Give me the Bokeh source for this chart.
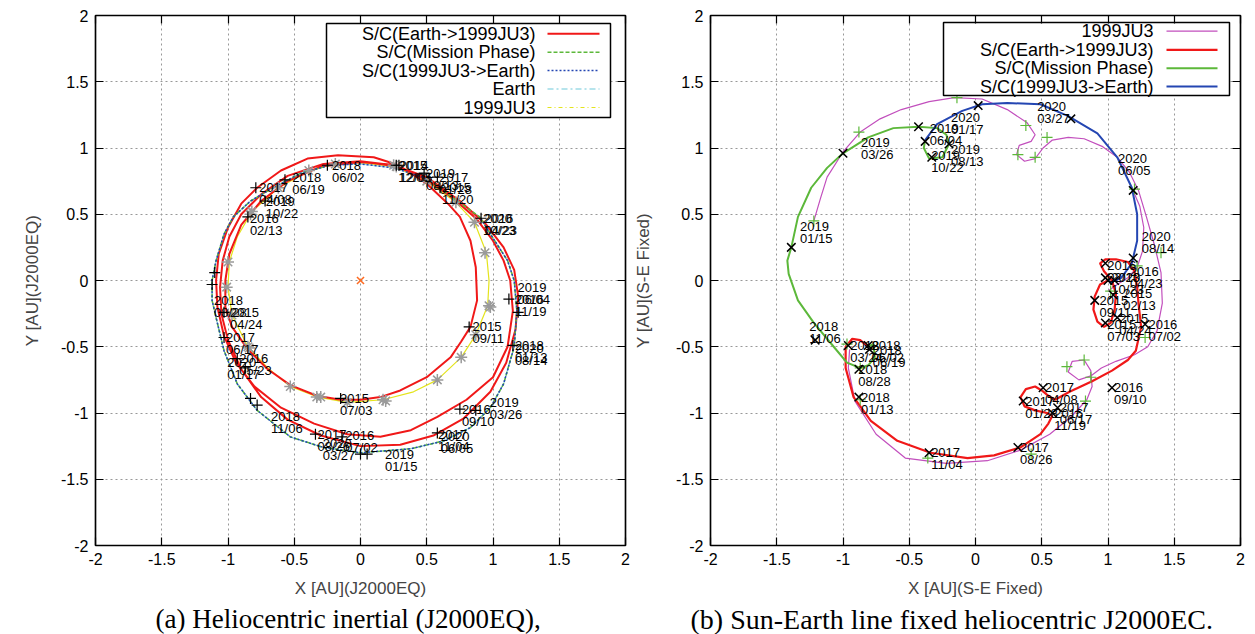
from bokeh.plotting import figure
from bokeh.models import Range1d, LinearAxis, FixedTicker, CustomJSTickFormatter, Title
from bokeh.layouts import row
from bokeh.core.properties import value
from bokeh.embed import file_html
from bokeh.resources import INLINE

TICKS = [-2, -1.5, -1, -0.5, 0, 0.5, 1, 1.5, 2]

# ---------------- (a) heliocentric inertial J2000EQ ----------------
earth_x_a = [1.16, 1.11, 1.00, 0.90, 0.73, 0.50, 0.25, 0.00, -0.23, -0.45, -0.66, -0.83, -0.96, -1.03, -1.09, -1.12,
             -1.12, -1.09, -1.03, -0.93, -0.78, -0.53, -0.28, 0.00, 0.38, 0.63, 0.83, 0.98, 1.08, 1.16, 1.18, 1.16]
earth_y_a = [0.00, 0.15, 0.32, 0.48, 0.60, 0.77, 0.85, 0.88, 0.87, 0.81, 0.70, 0.60, 0.48, 0.35, 0.15, 0.00,
             -0.15, -0.28, -0.53, -0.78, -0.98, -1.18, -1.26, -1.30, -1.27, -1.21, -1.11, -0.96, -0.78, -0.50, -0.23, 0.00]

mission_x_a = [-0.23, -0.45, -0.66, -0.83, -0.96, -1.03, -1.09, -1.12, -1.12, -1.09, -1.03, -0.93, -0.78, -0.53, -0.28,
               0.00, 0.38, 0.63, 0.83, 0.98, 1.08, 1.16, 1.18, 1.16, 1.11, 1.00, 0.90, 0.73, 0.50]
mission_y_a = [0.87, 0.81, 0.70, 0.60, 0.48, 0.35, 0.15, 0.00, -0.15, -0.28, -0.53, -0.78, -0.98, -1.18, -1.26,
               -1.30, -1.27, -1.21, -1.11, -0.96, -0.78, -0.50, -0.23, 0.00, 0.15, 0.32, 0.48, 0.60, 0.77]

return_x_a = [0.50, 0.25, 0.00, -0.23, -0.45, -0.66, -0.83, -0.96, -1.03, -1.09, -1.12, -1.12, -1.09, -1.03, -0.93,
              -0.78, -0.53, -0.28, 0.00, 0.38, 0.63, 0.83, 0.98, 1.08, 1.16, 1.18, 1.16, 1.11, 1.00, 0.90]
return_y_a = [0.77, 0.85, 0.88, 0.87, 0.81, 0.70, 0.60, 0.48, 0.35, 0.15, 0.00, -0.15, -0.28, -0.53, -0.78,
              -0.98, -1.18, -1.26, -1.30, -1.27, -1.21, -1.11, -0.96, -0.78, -0.50, -0.23, 0.00, 0.15, 0.32, 0.48]

ast_x_a = [0.97, 0.95, 0.86, 0.72, 0.50, 0.26, 0.00, -0.19, -0.38, -0.62, -0.82, -0.93, -0.99, -1.00, -0.97, -0.85,
           -0.70, -0.53, -0.32, -0.10, 0.17, 0.40, 0.58, 0.76, 0.87, 0.96, 0.97]
ast_y_a = [0.00, 0.21, 0.44, 0.59, 0.75, 0.86, 0.89, 0.88, 0.83, 0.70, 0.52, 0.33, 0.14, -0.05, -0.26, -0.50,
           -0.66, -0.80, -0.88, -0.92, -0.90, -0.84, -0.75, -0.58, -0.41, -0.19, 0.00]

outbound_x_a = [0.29, 0.00, -0.30, -0.55, -0.75, -0.90, -0.99, -1.02, -1.02, -0.97, -0.85, -0.70, -0.53, -0.33, -0.15,
                0.00, 0.15, 0.30, 0.50, 0.68, 0.76, 0.83, 0.88, 0.87, 0.83, 0.75, 0.66, 0.50, 0.29,
                0.10, -0.17, -0.40, -0.60, -0.78, -0.90, -1.00, -1.07, -1.09, -1.08, -1.03, -0.94, -0.80, -0.60, -0.35,
                -0.10, 0.15, 0.38, 0.58, 0.80, 1.00, 1.11, 1.15, 1.13, 1.08, 1.00, 0.88, 0.70, 0.50, 0.28,
                0.00, -0.28, -0.55, -0.75, -0.90, -0.99, -1.04, -1.06, -1.05, -1.00, -0.90, -0.75, -0.55, -0.30, 0.00,
                0.30, 0.55, 0.78, 0.98, 1.10, 1.17, 1.19, 1.16, 1.08, 0.95, 0.75, 0.50, 0.25, 0.00, -0.25]
outbound_y_a = [0.87, 0.895, 0.86, 0.75, 0.60, 0.42, 0.20, 0.00, -0.20, -0.35, -0.52, -0.67, -0.79, -0.87, -0.90,
                -0.90, -0.88, -0.83, -0.73, -0.58, -0.46, -0.35, -0.15, 0.10, 0.30, 0.48, 0.58, 0.73, 0.87,
                0.93, 0.945, 0.92, 0.83, 0.70, 0.58, 0.40, 0.20, 0.00, -0.20, -0.42, -0.62, -0.80, -0.96, -1.08,
                -1.16, -1.18, -1.13, -1.03, -0.90, -0.73, -0.50, -0.23, 0.00, 0.15, 0.30, 0.46, 0.62, 0.76, 0.86,
                0.90, 0.88, 0.79, 0.65, 0.50, 0.33, 0.15, -0.05, -0.25, -0.45, -0.67, -0.88, -1.05, -1.17, -1.25,
                -1.24, -1.17, -1.04, -0.84, -0.62, -0.37, -0.12, 0.08, 0.25, 0.42, 0.60, 0.78, 0.87, 0.90, 0.88]

sc_mark_x_a = [0.27, 0.29, 0.48, 0.58, 0.60, 0.91, -0.25, -0.57, -0.79, -0.72, -0.85, -1.10, -1.12, -1.03, -1.03, -0.93,
               -0.87, -0.83, -0.78, -0.34, -0.14, 0.00, 0.05, -0.15, 0.82, 0.75, 0.87, 0.58, 1.15, 1.12, 1.19]
sc_mark_y_a = [0.87, 0.87, 0.81, 0.78, 0.70, 0.47, 0.87, 0.76, 0.70, 0.60, 0.48, 0.06, -0.03, -0.24, -0.43, -0.59,
               -0.66, -0.89, -0.94, -1.16, -1.18, -1.31, -1.31, -0.89, -0.35, -0.97, -0.98, -1.15, -0.49, -0.14, -0.24]

ast_mark_x_a = [-1.00, -1.01, -0.82, -0.83, -0.62, -0.39, -0.19, 0.25, 0.27, 0.50, 0.72, 0.86, 0.94, 0.97, 0.98,
                0.87, 0.76, 0.58, 0.17, 0.19, -0.10, -0.30, -0.33, -0.53, -0.85, -0.84, -0.97]
ast_mark_y_a = [0.14, -0.05, 0.52, 0.50, 0.70, 0.83, 0.88, 0.87, 0.86, 0.75, 0.59, 0.44, 0.21, -0.19, -0.20,
                -0.41, -0.58, -0.75, -0.90, -0.91, -0.92, -0.88, -0.88, -0.80, -0.50, -0.51, -0.26]

sun_x = [0.0]
sun_y = [0.0]

lab_x_a = [0.27, 0.28, 0.48, 0.58, 0.60, 0.91, 0.92, -0.23, -0.53, -0.78, -0.73, -0.85, -1.12, -1.00, -1.03, -0.93,
           -1.02, -0.69, -0.34, -0.30, -0.13, -0.17, 0.17, 0.57, 0.59, 0.75, 0.96, 0.83, 1.15, 1.15, 1.17, 1.15]
lab_y_a = [0.87, 0.87, 0.81, 0.78, 0.70, 0.47, 0.47, 0.87, 0.78, 0.70, 0.60, 0.47, -0.15, -0.24, -0.43, -0.59,
           -0.62, -1.03, -1.16, -1.23, -1.17, -0.89, -1.31, -1.16, -1.18, -0.97, -0.92, -0.35, -0.49, -0.51, -0.05, -0.14]
lab_year_a = ["2015", "2014", "2019", "2017", "2015", "2020", "2016", "2018", "2018", "2017", "2019", "2016", "2018",
              "2015", "2017", "2016", "2020", "2018", "2017", "2020", "2016", "2015", "2019", "2017", "2020", "2016",
              "2019", "2015", "2018", "2020", "2019", "2016"]
lab_date_a = ["12/03", "12/05", "08/13", "01/28", "11/20", "10/23", "04/23", "06/02", "06/19", "04/08", "10/22", "02/13",
              "08/28", "04/24", "06/17", "05/23", "01/17", "11/06", "08/26", "03/27", "07/02", "07/03", "01/15", "11/04",
              "06/05", "09/10", "03/26", "09/11", "01/13", "08/14", "06/04", "11/19"]

# ---------------- (b) Sun-Earth line fixed ----------------
ast_x_b = [-1.22, -1.17, -1.12, -1.00, -0.87, -0.72, -0.56, -0.35, -0.16, 0.05, 0.24, 0.39, 0.45, 0.42, 0.33, 0.31,
           0.37, 0.45, 0.51, 0.58, 0.70, 0.82, 0.96, 1.07, 1.16, 1.23, 1.29, 1.35, 1.40, 1.41, 1.37, 1.30, 1.20, 1.06,
           0.95, 0.87, 0.78, 0.70, 0.73, 0.82, 0.87, 0.88, 0.84, 0.72, 0.56, 0.34, 0.09, -0.22, -0.53, -0.75, -0.91,
           -0.96, -0.95]
ast_y_b = [0.45, 0.62, 0.78, 0.97, 1.12, 1.22, 1.29, 1.35, 1.38, 1.37, 1.29, 1.19, 1.10, 1.05, 1.02, 0.95,
           0.90, 0.92, 1.00, 1.06, 1.08, 1.07, 1.01, 0.93, 0.82, 0.68, 0.48, 0.27, 0.06, -0.17, -0.38, -0.50, -0.56,
           -0.61, -0.66, -0.72, -0.75, -0.69, -0.61, -0.60, -0.68, -0.80, -0.90, -1.03, -1.16, -1.28, -1.36, -1.38,
           -1.34, -1.16, -0.91, -0.66, -0.52]
ast2_x_b = [1.00, 1.07, 1.15, 1.22, 1.26, 1.27, 1.24, 1.18]
ast2_y_b = [-0.08, -0.03, 0.02, 0.10, 0.22, 0.40, 0.56, 0.70]

outbound_x_b = [1.00, 0.94, 0.90, 0.89, 0.92, 0.97, 1.02, 1.05, 1.06, 1.03, 0.97, 0.94, 0.98, 1.06, 1.15, 1.20,
                1.22, 1.23, 1.25, 1.21, 1.15, 1.03, 0.88, 0.71, 0.60, 0.55, 0.50, 0.45, 0.38, 0.34, 0.37, 0.45,
                0.54, 0.58, 0.55, 0.49, 0.34, 0.14, -0.06, -0.34, -0.59, -0.79, -0.92, -0.98, -0.98, -0.93, -0.87, -0.81]
outbound_y_b = [0.00, -0.03, -0.12, -0.22, -0.31, -0.35, -0.32, -0.22, -0.10, 0.00, 0.07, 0.13, 0.16, 0.16, 0.14, 0.07,
                -0.05, -0.17, -0.35, -0.53, -0.60, -0.68, -0.76, -0.84, -0.90, -0.87, -0.83, -0.80, -0.82, -0.88, -0.95,
                -0.98, -1.00, -1.02, -1.08, -1.16, -1.26, -1.32, -1.34, -1.30, -1.21, -1.06, -0.88, -0.66, -0.50, -0.44,
                -0.45, -0.50]

mission_x_b = [-0.81, -0.77, -0.76, -0.81, -0.87, -0.97, -1.07, -1.22, -1.34, -1.41, -1.42, -1.39, -1.34, -1.24, -1.12,
               -1.00, -0.81, -0.62, -0.43, -0.29, -0.22, -0.20, -0.25, -0.35, -0.39, -0.38]
mission_y_b = [-0.50, -0.48, -0.58, -0.64, -0.66, -0.62, -0.50, -0.32, -0.15, 0.05, 0.15, 0.25, 0.48, 0.70, 0.85,
               0.96, 1.08, 1.15, 1.16, 1.15, 1.10, 1.03, 0.93, 0.92, 1.00, 1.06]

return_x_b = [-0.38, -0.29, -0.10, 0.05, 0.24, 0.49, 0.70, 0.92, 1.07, 1.18, 1.22, 1.22, 1.18, 1.10, 1.01]
return_y_b = [1.06, 1.18, 1.28, 1.33, 1.34, 1.33, 1.24, 1.11, 0.93, 0.70, 0.50, 0.30, 0.13, 0.02, -0.02]

sc_mark_x_b = [-1.39, -1.00, -0.43, -0.38, -0.33, -0.20, 0.02, 0.72, 1.19, 1.19, 0.98, 0.98, 1.00, 1.05, 0.90, 1.04,
               1.07, 0.98, 1.28, 1.03, -1.21, -0.96, -0.81, -0.80, -0.88, -0.88, -0.35, 0.32, 0.51, 0.36, 0.62, 0.58]
sc_mark_y_b = [0.25, 0.96, 1.16, 1.05, 0.93, 1.03, 1.32, 1.22, 0.68, 0.17, 0.13, 0.02, 0.00, 0.00, -0.15, -0.11,
               -0.28, -0.32, -0.33, -0.81, -0.45, -0.49, -0.49, -0.52, -0.67, -0.88, -1.30, -1.26, -0.81, -0.91, -0.96, -1.00]

ast_mark_x_b = [-1.22, -0.88, -0.14, 0.38, 0.32, 0.45, 0.54, 1.20, 1.40, 1.22, 1.02, 1.28, 0.69, 0.82, 0.87, 0.83,
                0.42, -0.36, -0.97, -0.87, -0.87]
ast_mark_y_b = [0.45, 1.12, 1.38, 1.17, 0.95, 0.93, 1.08, 0.69, 0.21, 0.11, -0.08, -0.43, -0.65, -0.60, -0.73, -0.91,
                -1.31, -1.34, -0.48, -0.66, -0.90]

lab_x_b = [-1.34, -0.88, -0.36, -0.20, -0.20, -0.35, 0.45, 1.06, 1.24, 0.98, 1.15, 1.01, 1.10, 0.92, 1.07, 0.98,
           1.29, 1.03, -1.27, -0.96, -0.80, -0.79, -0.90, -0.88, -0.35, 0.32, 0.51, 0.36, 0.62, 0.58]
lab_y_b = [0.41, 1.04, 1.15, 1.23, 0.99, 0.94, 1.31, 0.92, 0.33, 0.11, 0.07, 0.02, -0.10, -0.15, -0.29, -0.33,
           -0.33, -0.81, -0.35, -0.49, -0.49, -0.53, -0.67, -0.88, -1.30, -1.26, -0.81, -0.91, -0.96, -1.00]
lab_year_b = ["2019", "2019", "2019", "2020", "2019", "2019", "2020", "2020", "2020", "2016", "2016", "2020", "2015",
              "2015", "2015", "2015", "2016", "2016", "2018", "2018", "2018", "2018", "2018", "2018", "2017", "2017",
              "2017", "2017", "2017", "2016"]
lab_date_b = ["01/15", "03/26", "06/04", "01/17", "08/13", "10/22", "03/27", "06/05", "08/14", "02/13", "04/23", "10/23",
              "02/13", "09/11", "04/24", "07/03", "07/02", "09/10", "11/06", "03/24", "06/02", "06/19", "08/28", "01/13",
              "11/04", "08/26", "04/08", "01/28", "06/17", "11/19"]

legend_a = ["S/C(Earth->1999JU3)", "S/C(Mission Phase)", "S/C(1999JU3->Earth)", "Earth", "1999JU3"]
legend_b = ["1999JU3", "S/C(Earth->1999JU3)", "S/C(Mission Phase)", "S/C(1999JU3->Earth)"]

# ---------------- styling ----------------
SANS = "Liberation Sans"
SERIF = "Liberation Serif"
RED = "#f01818"
GREEN = "#5cb83a"
BLUE = "#2446b2"
CYAN = "#9edbe6"
YELLOW = "#e4e41c"
MAGENTA = "#c24fbd"
GRAY = "#9a9a9a"
ORANGE = "#ff6a20"
SCALE = 530 / 4.0  # px per AU
TOP = 15           # frame top in page px


def make_fig(border_left, border_right, xlabel, ylabel, ylab_standoff, caption, cap_size, cap_offset):
    p = figure(frame_width=530, frame_height=530, x_range=Range1d(-2, 2), y_range=Range1d(-2, 2),
               output_backend="svg", toolbar_location=None,
               min_border_left=border_left, min_border_right=border_right,
               min_border_top=TOP, min_border_bottom=10)
    p.outline_line_color = "black"
    p.outline_line_width = 1.5
    p.background_fill_color = "white"
    p.border_fill_color = "white"
    p.add_layout(LinearAxis(), "above")
    p.add_layout(LinearAxis(), "right")
    for ax in p.axis:
        ax.ticker = FixedTicker(ticks=TICKS)
        ax.formatter = CustomJSTickFormatter(code="return tick.toString();")
        ax.major_tick_in = 8
        ax.major_tick_out = 0
        ax.minor_tick_in = 0
        ax.minor_tick_out = 0
        ax.major_tick_line_color = "black"
        ax.major_tick_line_width = 1.2
        ax.axis_line_color = "black"
        ax.axis_line_width = 1.2
        ax.major_label_text_font = SANS
        ax.major_label_text_font_size = "16px"
        ax.major_label_text_color = "black"
        ax.major_label_standoff = 7
    for ax in (p.above[0], p.right[0]):
        ax.major_label_text_font_size = "1px"
        ax.major_label_text_color = None
        ax.major_label_standoff = 0
    bx = p.below[0]
    bx.axis_label = xlabel
    bx.axis_label_text_font = SANS
    bx.axis_label_text_font_size = "17px"
    bx.axis_label_text_font_style = "normal"
    bx.axis_label_standoff = 11
    ly = p.left[0]
    ly.axis_label = ylabel
    ly.axis_label_text_font = SANS
    ly.axis_label_text_font_size = "17px"
    ly.axis_label_text_font_style = "normal"
    ly.axis_label_standoff = ylab_standoff
    p.xgrid.ticker = FixedTicker(ticks=TICKS)
    p.ygrid.ticker = FixedTicker(ticks=TICKS)
    for g in (p.xgrid[0], p.ygrid[0]):
        g.grid_line_color = "#989898"
        g.grid_line_dash = "2 3"
        g.grid_line_width = 1
    p.add_layout(Title(text=caption, align="left", offset=cap_offset, text_font=SERIF, text_font_size=cap_size,
                       text_font_style="normal", text_color="black", standoff=3), "below")
    return p


def add_labels(p, xs, ys, years, dates):
    p.text(x=xs, y=ys, text=years, text_font=value(SANS), text_font_size="13px", text_color="black",
           text_align="left", text_baseline="middle", x_offset=2)
    p.text(x=xs, y=ys, text=dates, text_font=value(SANS), text_font_size="13px", text_color="black",
           text_align="left", text_baseline="middle", x_offset=2, y_offset=12)


def add_key(p, x0_px, box, rows, text_right, sample, names, styles):
    # key geometry given in page pixels, converted through the panel's fixed scale
    fx = lambda px: (px - x0_px) / SCALE
    fy = lambda py: (TOP + 265 - py) / SCALE
    p.quad(left=[fx(box[0])], right=[fx(box[2])], top=[fy(box[1])], bottom=[fy(box[3])],
           fill_color="white", line_color="black", line_width=1.5)
    p.text(x=[fx(text_right)] * len(names), y=[fy(r) for r in rows], text=names, text_font=value(SANS),
           text_font_size="18px", text_color="black", text_align="right", text_baseline="middle")
    for r, st in zip(rows, styles):
        p.line(x=[fx(sample[0]), fx(sample[1])], y=[fy(r), fy(r)], **st)


# ---- panel (a)
pa = make_fig(95, 5, "X [AU](J2000EQ)", "Y [AU](J2000EQ)", 16, "(a) Heliocentric inertial (J2000EQ),", "27px", 60)
st_red = dict(line_color=RED, line_width=2)
st_green_a = dict(line_color=GREEN, line_width=1.5, line_dash="4 2")
st_blue_a = dict(line_color=BLUE, line_width=1.5, line_dash="2 2")
st_cyan_a = dict(line_color=CYAN, line_width=1.5, line_dash="6 3 2 3")
st_yellow_a = dict(line_color=YELLOW, line_width=1, line_dash="4 3 1 3")
pa.line(earth_x_a, earth_y_a, line_color=CYAN, line_width=1.2)
pa.line(ast_x_a, ast_y_a, line_color=YELLOW, line_width=1.2)
pa.line(outbound_x_a, outbound_y_a, **st_red)
pa.line(mission_x_a, mission_y_a, **st_green_a)
pa.line(return_x_a, return_y_a, **st_blue_a)
pa.scatter(ast_mark_x_a, ast_mark_y_a, marker="asterisk", size=12, line_color=GRAY, line_width=1.5)
pa.scatter(sc_mark_x_a, sc_mark_y_a, marker="cross", size=11, line_color="black", line_width=1.2)
pa.scatter(sun_x, sun_y, marker="x", size=10, line_color=ORANGE, line_width=1.5)
add_labels(pa, lab_x_a, lab_y_a, lab_year_a, lab_date_a)
add_key(pa, 360, (326, 23, 610, 117), [33.3, 51.7, 70.0, 88.5, 107.0], 535, (547, 599), legend_a,
        [st_red, st_green_a, st_blue_a, st_cyan_a, st_yellow_a])

# ---- panel (b)
pb = make_fig(80, 15, "X [AU](S-E Fixed)", "Y [AU](S-E Fixed)", 20,
              "(b) Sun-Earth line fixed heliocentric J2000EC.", "28px", -20)
st_mag = dict(line_color=MAGENTA, line_width=1.2)
st_red_b = dict(line_color=RED, line_width=2.2)
st_green_b = dict(line_color=GREEN, line_width=2)
st_blue_b = dict(line_color=BLUE, line_width=2)
pb.line(ast_x_b, ast_y_b, **st_mag)
pb.line(ast2_x_b, ast2_y_b, **st_mag)
pb.line(outbound_x_b, outbound_y_b, **st_red_b)
pb.line(mission_x_b, mission_y_b, **st_green_b)
pb.line(return_x_b, return_y_b, **st_blue_b)
pb.scatter(ast_mark_x_b, ast_mark_y_b, marker="cross", size=11, line_color=GREEN, line_width=1.2)
pb.scatter(sc_mark_x_b, sc_mark_y_b, marker="x", size=12, line_color="black", line_width=1.5)
add_labels(pb, lab_x_b, lab_y_b, lab_year_b, lab_date_b)
add_key(pb, 975, (943, 22, 1229, 95), [30.7, 49.3, 67.7, 86.0], 1153, (1166, 1217), legend_b,
        [st_mag, st_red_b, st_green_b, st_blue_b])

layout = row(pa, pb)
open("out.html", "w").write(file_html(layout, INLINE))
